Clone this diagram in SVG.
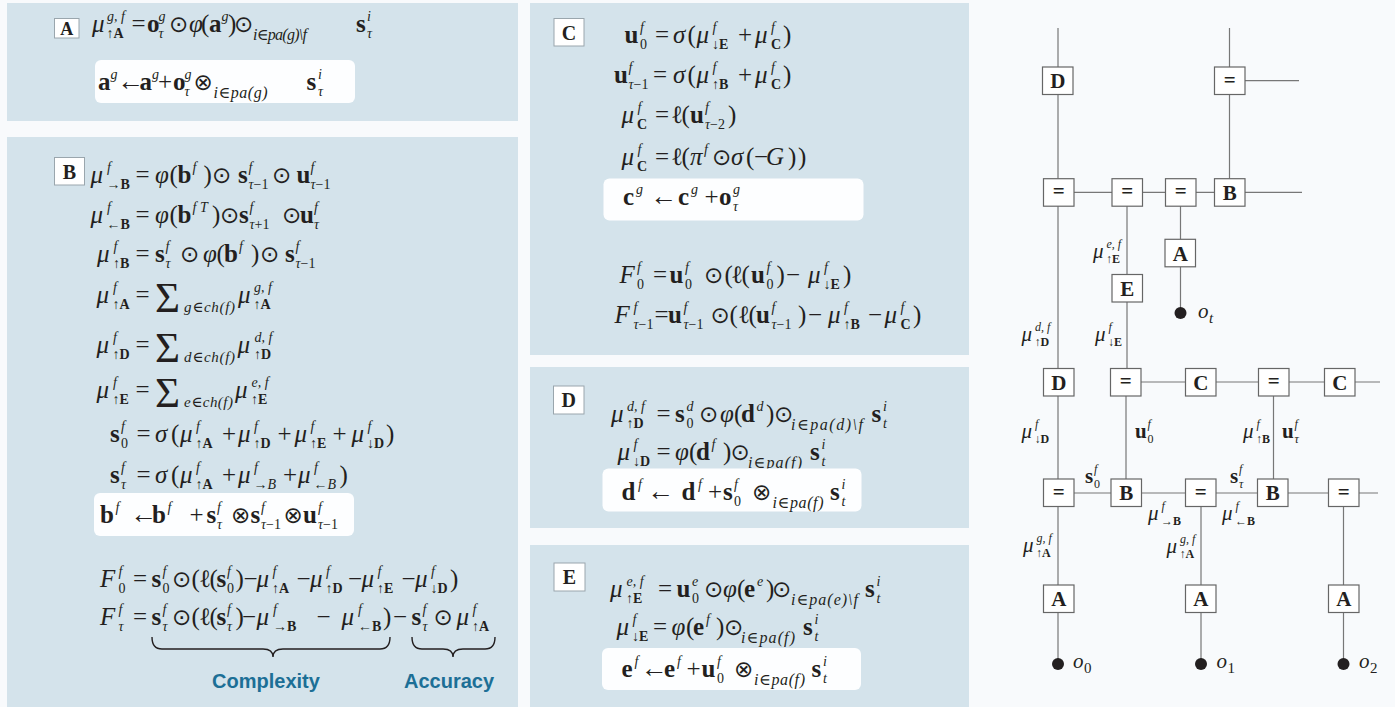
<svg xmlns="http://www.w3.org/2000/svg" width="1395" height="707" viewBox="0 0 1395 707">
<style>
.bg{fill:#f8fafc}
.panel{fill:#d4e3eb}
.wb{fill:#fdfeff}
.lbl{fill:#fff;stroke:#9aa6ad;stroke-width:1}
.lt{font-family:"Liberation Serif","DejaVu Serif",serif;font-weight:bold;font-size:20px;fill:#231f20;text-anchor:middle}
.eq{font-family:"Liberation Serif","DejaVu Serif",serif;font-size:25px;fill:#231f20}
.i{font-style:italic}
.b{font-weight:bold}
.n{font-style:normal}
.s{font-size:14px}
.o{font-family:"DejaVu Sans",sans-serif;font-size:23px;font-style:normal;font-weight:normal}
.ar{font-size:27px;font-style:normal}
.sum{font-size:43px;font-style:normal}
.osub{font-family:"Liberation Serif","DejaVu Serif",serif;font-size:16px;font-style:italic;fill:#231f20}
.cap{font-family:"Liberation Sans",Arial,sans-serif;font-weight:bold;font-size:20px;fill:#1c6f96;text-anchor:middle}
.brace{fill:none;stroke:#231f20;stroke-width:1.4}
.gl{font-family:"Liberation Serif","DejaVu Serif",serif;font-size:21px;fill:#231f20}
.gs{font-size:12px}
.box{fill:#fff;stroke:#666;stroke-width:1.2}
.nt{font-family:"Liberation Serif","DejaVu Serif",serif;font-weight:bold;font-size:21px;fill:#231f20;text-anchor:middle}
.ln{stroke:#777;stroke-width:1.2;fill:none}
.dot{fill:#231f20}
</style>
<rect class="bg" x="0" y="0" width="1395" height="707"/>

<!-- Panel A -->
<g id="panelA">
<rect class="panel" x="7" y="3" width="511" height="118"/>
<rect class="lbl" x="54.5" y="18.5" width="24.5" height="19.5"/>
<text class="lt" x="66.8" y="34.5" style="font-size:18px">A</text>
<rect class="wb" x="95" y="60" width="260" height="43" rx="6"/>
<text class="eq">
<tspan x="92" y="32" class="i">μ</tspan><tspan x="107" y="21" class="i s">g, f</tspan><tspan x="106.5" y="38" class="s">↑<tspan class="b">A</tspan></tspan>
<tspan x="131.5" y="32">=</tspan>
<tspan x="147" y="32" class="b">o</tspan><tspan x="158.5" y="21" class="i s">g</tspan><tspan x="158.5" y="38" class="i s">τ</tspan>
<tspan x="169" y="32" class="o">⊙</tspan>
<tspan x="189" y="32" class="i">φ</tspan><tspan x="201" y="32">(</tspan><tspan x="209" y="32" class="b">a</tspan><tspan x="221.5" y="21" class="i s">g</tspan><tspan x="228" y="32">)</tspan>
<tspan x="234" y="32" class="o">⊙</tspan>
<tspan x="356" y="32" class="b">s</tspan><tspan x="367" y="21" class="i s">i</tspan><tspan x="367" y="38" class="i s">τ</tspan>
</text>
<text class="osub" x="253" y="40" textLength="54" lengthAdjust="spacing">i<tspan class="n">∈</tspan>pa(g)\f</text>
<text class="eq">
<tspan x="98" y="90" class="b">a</tspan><tspan x="110.5" y="79" class="i s">g</tspan>
<tspan x="117" y="90" class="ar">←</tspan>
<tspan x="139.5" y="90" class="b">a</tspan><tspan x="152" y="79" class="i s">g</tspan>
<tspan x="158" y="90">+</tspan>
<tspan x="173" y="90" class="b">o</tspan><tspan x="184.5" y="79" class="i s">g</tspan><tspan x="184.5" y="96" class="i s">τ</tspan>
<tspan x="193.5" y="90" class="o">⊗</tspan>
<tspan x="306.5" y="90" class="b">s</tspan><tspan x="318" y="79" class="i s">i</tspan><tspan x="318" y="96" class="i s">τ</tspan>
</text>
<text class="osub" x="213.5" y="98" textLength="54" lengthAdjust="spacing">i<tspan class="n">∈</tspan>pa(g)</text>
</g>

<!-- Panel B -->
<g id="panelB">
<rect class="panel" x="7" y="137" width="511" height="570"/>
<rect class="lbl" x="54.5" y="157.5" width="30" height="27.5"/>
<text class="lt" x="69.5" y="178.5">B</text>
<text class="eq">
<tspan x="90.5" y="183" class="i">μ</tspan><tspan x="107" y="172" class="i s">f</tspan><tspan x="106.5" y="189" class="s">→<tspan class="b">B</tspan></tspan>
<tspan x="135.5" y="183">=</tspan>
<tspan x="155" y="183" class="i">φ</tspan><tspan x="169.5" y="183">(</tspan><tspan x="177.5" y="183" class="b">b</tspan><tspan x="192.5" y="172" class="i s">f</tspan><tspan x="203.5" y="183">)</tspan>
<tspan x="212" y="183" class="o">⊙</tspan>
<tspan x="238" y="183" class="b">s</tspan><tspan x="248.5" y="172" class="i s">f</tspan><tspan x="248.5" y="189" class="i s">τ<tspan class="n">−1</tspan></tspan>
<tspan x="272" y="183" class="o">⊙</tspan>
<tspan x="296.5" y="183" class="b">u</tspan><tspan x="310.5" y="172" class="i s">f</tspan><tspan x="310.5" y="189" class="i s">τ<tspan class="n">−1</tspan></tspan>
</text>
<text class="eq">
<tspan x="90.5" y="223" class="i">μ</tspan><tspan x="107" y="212" class="i s">f</tspan><tspan x="106.5" y="229" class="s">←<tspan class="b">B</tspan></tspan>
<tspan x="135.5" y="223">=</tspan>
<tspan x="155" y="223" class="i">φ</tspan><tspan x="169.5" y="223">(</tspan><tspan x="177.5" y="223" class="b">b</tspan><tspan x="192.5" y="212" class="i s">f T</tspan><tspan x="212" y="223">)</tspan>
<tspan x="220" y="223" class="o">⊙</tspan>
<tspan x="239" y="223" class="b">s</tspan><tspan x="249.5" y="212" class="i s">f</tspan><tspan x="249.5" y="229" class="i s">τ<tspan class="n">+1</tspan></tspan>
<tspan x="282" y="223" class="o">⊙</tspan>
<tspan x="300" y="223" class="b">u</tspan><tspan x="314" y="212" class="i s">f</tspan><tspan x="314" y="229" class="i s">τ</tspan>
</text>
<text class="eq">
<tspan x="97" y="262" class="i">μ</tspan><tspan x="113.5" y="251" class="i s">f</tspan><tspan x="113" y="268" class="s">↑<tspan class="b">B</tspan></tspan>
<tspan x="135.5" y="262">=</tspan>
<tspan x="155" y="262" class="b">s</tspan><tspan x="165.5" y="251" class="i s">f</tspan><tspan x="165.5" y="268" class="i s">τ</tspan>
<tspan x="180" y="262" class="o">⊙</tspan>
<tspan x="203" y="262" class="i">φ</tspan><tspan x="216.5" y="262">(</tspan><tspan x="224" y="262" class="b">b</tspan><tspan x="239" y="251" class="i s">f</tspan><tspan x="251" y="262">)</tspan>
<tspan x="260" y="262" class="o">⊙</tspan>
<tspan x="285" y="262" class="b">s</tspan><tspan x="295.5" y="251" class="i s">f</tspan><tspan x="295.5" y="268" class="i s">τ<tspan class="n">−1</tspan></tspan>
</text>
<text class="eq">
<tspan x="96.5" y="303" class="i">μ</tspan><tspan x="113" y="292" class="i s">f</tspan><tspan x="112.5" y="309" class="s">↑<tspan class="b">A</tspan></tspan>
<tspan x="135.5" y="303">=</tspan>
<tspan x="155" y="312" class="sum">Σ</tspan>
<tspan x="238" y="303" class="i">μ</tspan><tspan x="254" y="292" class="i s">g, f</tspan><tspan x="253.5" y="309" class="s">↑<tspan class="b">A</tspan></tspan>
</text>
<text class="osub" x="184" y="312" textLength="51" lengthAdjust="spacing" style="font-size:15px">g<tspan class="n">∈</tspan>ch(f)</text>
<text class="eq">
<tspan x="96.5" y="353" class="i">μ</tspan><tspan x="113" y="342" class="i s">f</tspan><tspan x="112.5" y="359" class="s">↑<tspan class="b">D</tspan></tspan>
<tspan x="135.5" y="353">=</tspan>
<tspan x="155" y="362" class="sum">Σ</tspan>
<tspan x="237.5" y="353" class="i">μ</tspan><tspan x="254.5" y="342" class="i s">d, f</tspan><tspan x="254" y="359" class="s">↑<tspan class="b">D</tspan></tspan>
</text>
<text class="osub" x="184" y="362" textLength="51" lengthAdjust="spacing" style="font-size:15px">d<tspan class="n">∈</tspan>ch(f)</text>
<text class="eq">
<tspan x="96.5" y="398" class="i">μ</tspan><tspan x="113" y="387" class="i s">f</tspan><tspan x="112.5" y="404" class="s">↑<tspan class="b">E</tspan></tspan>
<tspan x="135.5" y="398">=</tspan>
<tspan x="155" y="407" class="sum">Σ</tspan>
<tspan x="235" y="398" class="i">μ</tspan><tspan x="251.5" y="387" class="i s">e, f</tspan><tspan x="251" y="404" class="s">↑<tspan class="b">E</tspan></tspan>
</text>
<text class="osub" x="184" y="407" textLength="49" lengthAdjust="spacing" style="font-size:15px">e<tspan class="n">∈</tspan>ch(f)</text>
<text class="eq">
<tspan x="110" y="442" class="b">s</tspan><tspan x="121" y="431" class="i s">f</tspan><tspan x="121" y="448" class="s">0</tspan>
<tspan x="136.5" y="442">=</tspan>
<tspan x="155" y="442" class="i">σ</tspan><tspan x="171" y="442">(</tspan>
<tspan x="180" y="442" class="i">μ</tspan><tspan x="196" y="431" class="i s">f</tspan><tspan x="195.5" y="448" class="s">↑<tspan class="b">A</tspan></tspan>
<tspan x="222" y="442">+</tspan>
<tspan x="238" y="442" class="i">μ</tspan><tspan x="254" y="431" class="i s">f</tspan><tspan x="253.5" y="448" class="s">↑<tspan class="b">D</tspan></tspan>
<tspan x="277.5" y="442">+</tspan>
<tspan x="294.5" y="442" class="i">μ</tspan><tspan x="310.5" y="431" class="i s">f</tspan><tspan x="310" y="448" class="s">↑<tspan class="b">E</tspan></tspan>
<tspan x="332.5" y="442">+</tspan>
<tspan x="351.5" y="442" class="i">μ</tspan><tspan x="367.5" y="431" class="i s">f</tspan><tspan x="367" y="448" class="s">↓<tspan class="b">D</tspan></tspan>
<tspan x="386" y="442">)</tspan>
</text>
<text class="eq">
<tspan x="110" y="483" class="b">s</tspan><tspan x="121" y="472" class="i s">f</tspan><tspan x="121" y="489" class="i s">τ</tspan>
<tspan x="136.5" y="483">=</tspan>
<tspan x="155" y="483" class="i">σ</tspan><tspan x="171" y="483">(</tspan>
<tspan x="180" y="483" class="i">μ</tspan><tspan x="196" y="472" class="i s">f</tspan><tspan x="195.5" y="489" class="s">↑<tspan class="b">A</tspan></tspan>
<tspan x="222" y="483">+</tspan>
<tspan x="238" y="483" class="i">μ</tspan><tspan x="254" y="472" class="i s">f</tspan><tspan x="253.5" y="489" class="s">→<tspan class="i">B</tspan></tspan>
<tspan x="283" y="483">+</tspan>
<tspan x="298" y="483" class="i">μ</tspan><tspan x="314" y="472" class="i s">f</tspan><tspan x="313.5" y="489" class="s">←<tspan class="i">B</tspan></tspan>
<tspan x="339.5" y="483">)</tspan>
</text>
<rect class="wb" x="94" y="493" width="260" height="43" rx="6"/>
<text class="eq">
<tspan x="100" y="523" class="b">b</tspan><tspan x="115.5" y="512" class="i s">f</tspan>
<tspan x="130" y="523" class="ar">←</tspan>
<tspan x="152" y="523" class="b">b</tspan><tspan x="167.5" y="512" class="i s">f</tspan>
<tspan x="189.5" y="523">+</tspan>
<tspan x="206.5" y="523" class="b">s</tspan><tspan x="217" y="512" class="i s">f</tspan><tspan x="217" y="529" class="i s">τ</tspan>
<tspan x="231" y="523" class="o">⊗</tspan>
<tspan x="250.5" y="523" class="b">s</tspan><tspan x="261" y="512" class="i s">f</tspan><tspan x="261" y="529" class="i s">τ<tspan class="n">−1</tspan></tspan>
<tspan x="283.5" y="523" class="o">⊗</tspan>
<tspan x="303" y="523" class="b">u</tspan><tspan x="318" y="512" class="i s">f</tspan><tspan x="318" y="529" class="i s">τ<tspan class="n">−1</tspan></tspan>
</text>
<text class="eq">
<tspan x="100" y="587" class="i">F</tspan><tspan x="118.5" y="576" class="i s">f</tspan><tspan x="118.5" y="593" class="s">0</tspan>
<tspan x="133" y="587">=</tspan>
<tspan x="151.5" y="587" class="b">s</tspan><tspan x="162.5" y="576" class="i s">f</tspan><tspan x="162.5" y="593" class="s">0</tspan>
<tspan x="172" y="587" class="o">⊙</tspan>
<tspan x="191.5" y="587">(</tspan><tspan x="199" y="587">ℓ</tspan><tspan x="209.5" y="587">(</tspan>
<tspan x="216.5" y="587" class="b">s</tspan><tspan x="227" y="576" class="i s">f</tspan><tspan x="227" y="593" class="s">0</tspan><tspan x="235.5" y="587">)</tspan>
<tspan x="243.5" y="587">−</tspan>
<tspan x="256.5" y="587" class="i">μ</tspan><tspan x="272.5" y="576" class="i s">f</tspan><tspan x="272" y="593" class="s">↑<tspan class="b">A</tspan></tspan>
<tspan x="296.5" y="587">−</tspan>
<tspan x="310" y="587" class="i">μ</tspan><tspan x="326" y="576" class="i s">f</tspan><tspan x="325.5" y="593" class="s">↑<tspan class="b">D</tspan></tspan>
<tspan x="348" y="587">−</tspan>
<tspan x="361.5" y="587" class="i">μ</tspan><tspan x="377.5" y="576" class="i s">f</tspan><tspan x="377" y="593" class="s">↑<tspan class="b">E</tspan></tspan>
<tspan x="401.5" y="587">−</tspan>
<tspan x="415" y="587" class="i">μ</tspan><tspan x="431" y="576" class="i s">f</tspan><tspan x="430.5" y="593" class="s">↓<tspan class="b">D</tspan></tspan>
<tspan x="450" y="587">)</tspan>
</text>
<text class="eq">
<tspan x="100" y="625" class="i">F</tspan><tspan x="118.5" y="614" class="i s">f</tspan><tspan x="118.5" y="631" class="i s">τ</tspan>
<tspan x="133" y="625">=</tspan>
<tspan x="151.5" y="625" class="b">s</tspan><tspan x="162.5" y="614" class="i s">f</tspan><tspan x="162.5" y="631" class="i s">τ</tspan>
<tspan x="172" y="625" class="o">⊙</tspan>
<tspan x="191.5" y="625">(</tspan><tspan x="199" y="625">ℓ</tspan><tspan x="209.5" y="625">(</tspan>
<tspan x="216.5" y="625" class="b">s</tspan><tspan x="227" y="614" class="i s">f</tspan><tspan x="227" y="631" class="i s">τ</tspan><tspan x="235.5" y="625">)</tspan>
<tspan x="242" y="625">−</tspan>
<tspan x="256.5" y="625" class="i">μ</tspan><tspan x="273" y="614" class="i s">f</tspan><tspan x="273" y="631" class="s">→<tspan class="b">B</tspan></tspan>
<tspan x="316.5" y="625">−</tspan>
<tspan x="341.5" y="625" class="i">μ</tspan><tspan x="358" y="614" class="i s">f</tspan><tspan x="358" y="631" class="s">←<tspan class="b">B</tspan></tspan>
<tspan x="383" y="625">)</tspan>
<tspan x="393" y="625">−</tspan>
<tspan x="411.5" y="625" class="b">s</tspan><tspan x="422.5" y="614" class="i s">f</tspan><tspan x="422.5" y="631" class="i s">τ</tspan>
<tspan x="433.5" y="625" class="o">⊙</tspan>
<tspan x="456.5" y="625" class="i">μ</tspan><tspan x="472.5" y="614" class="i s">f</tspan><tspan x="472" y="631" class="s">↑<tspan class="b">A</tspan></tspan>
</text>
<path class="brace" d="M152,637 Q152,649 162,649 L263,649 Q273,649 273,657 Q273,649 283,649 L380,649 Q390,649 390,637"/>
<path class="brace" d="M412,637 Q412,649 422,649 L443,649 Q453,649 453,657 Q453,649 463,649 L485,649 Q495,649 495,637"/>
<text class="cap" x="266" y="688">Complexity</text>
<text class="cap" x="449" y="688">Accuracy</text>
</g>

<!-- Panel C -->
<g id="panelC">
<rect class="panel" x="530" y="3" width="439" height="352"/>
<rect class="lbl" x="554" y="18.5" width="30" height="27.5"/>
<text class="lt" x="569" y="39.5">C</text>
<text class="eq">
<tspan x="624.5" y="43" class="b">u</tspan><tspan x="640" y="32" class="i s">f</tspan><tspan x="640" y="49" class="s">0</tspan>
<tspan x="655" y="43">=</tspan>
<tspan x="673" y="43" class="i">σ</tspan><tspan x="687.5" y="43">(</tspan>
<tspan x="696.5" y="43" class="i">μ</tspan><tspan x="712.5" y="32" class="i s">f</tspan><tspan x="712" y="49" class="s">↓<tspan class="b">E</tspan></tspan>
<tspan x="738" y="43">+</tspan>
<tspan x="755" y="43" class="i">μ</tspan><tspan x="771" y="32" class="i s">f</tspan><tspan x="771" y="49" class="b s">C</tspan>
<tspan x="783" y="43">)</tspan>
</text>
<text class="eq">
<tspan x="614" y="83" class="b">u</tspan><tspan x="628.5" y="72" class="i s">f</tspan><tspan x="628.5" y="89" class="i s">τ<tspan class="n">−1</tspan></tspan>
<tspan x="653" y="83">=</tspan>
<tspan x="673" y="83" class="i">σ</tspan><tspan x="687.5" y="83">(</tspan>
<tspan x="696.5" y="83" class="i">μ</tspan><tspan x="712.5" y="72" class="i s">f</tspan><tspan x="712" y="89" class="s">↑<tspan class="b">B</tspan></tspan>
<tspan x="738" y="83">+</tspan>
<tspan x="755" y="83" class="i">μ</tspan><tspan x="771" y="72" class="i s">f</tspan><tspan x="771" y="89" class="b s">C</tspan>
<tspan x="783" y="83">)</tspan>
</text>
<text class="eq">
<tspan x="621.5" y="123" class="i">μ</tspan><tspan x="637.5" y="112" class="i s">f</tspan><tspan x="637" y="129" class="b s">C</tspan>
<tspan x="655" y="123">=</tspan>
<tspan x="671" y="123">ℓ</tspan><tspan x="681.5" y="123">(</tspan>
<tspan x="690" y="123" class="b">u</tspan><tspan x="705" y="112" class="i s">f</tspan><tspan x="705" y="129" class="i s">τ<tspan class="n">−2</tspan></tspan>
<tspan x="728" y="123">)</tspan>
</text>
<text class="eq">
<tspan x="621.5" y="165" class="i">μ</tspan><tspan x="637.5" y="154" class="i s">f</tspan><tspan x="637" y="171" class="b s">C</tspan>
<tspan x="655" y="165">=</tspan>
<tspan x="671" y="165">ℓ</tspan><tspan x="681.5" y="165">(</tspan>
<tspan x="690" y="165" class="i">π</tspan><tspan x="704" y="154" class="i s">f</tspan>
<tspan x="712" y="165" class="o">⊙</tspan>
<tspan x="731" y="165" class="i">σ</tspan><tspan x="746" y="165">(</tspan><tspan x="754" y="165">−</tspan><tspan x="766" y="165" class="i">G</tspan><tspan x="788" y="165">)</tspan><tspan x="798" y="165">)</tspan>
</text>
<rect class="wb" x="603.5" y="178.5" width="260" height="42" rx="6"/>
<text class="eq">
<tspan x="623" y="205" class="b">c</tspan><tspan x="636" y="194" class="i s">g</tspan>
<tspan x="650" y="205" class="ar">←</tspan>
<tspan x="678" y="205" class="b">c</tspan><tspan x="691" y="194" class="i s">g</tspan>
<tspan x="704.5" y="205">+</tspan>
<tspan x="719" y="205" class="b">o</tspan><tspan x="733" y="194" class="i s">g</tspan><tspan x="733" y="211" class="i s">τ</tspan>
</text>
<text class="eq">
<tspan x="619.5" y="283" class="i">F</tspan><tspan x="637" y="272" class="i s">f</tspan><tspan x="637" y="289" class="s">0</tspan>
<tspan x="653" y="283">=</tspan>
<tspan x="669.5" y="283" class="b">u</tspan><tspan x="685" y="272" class="i s">f</tspan><tspan x="685" y="289" class="s">0</tspan>
<tspan x="704" y="283" class="o">⊙</tspan>
<tspan x="724.5" y="283">(</tspan><tspan x="731" y="283">ℓ</tspan><tspan x="741.5" y="283">(</tspan>
<tspan x="751" y="283" class="b">u</tspan><tspan x="766.5" y="272" class="i s">f</tspan><tspan x="766.5" y="289" class="s">0</tspan><tspan x="776.5" y="283">)</tspan>
<tspan x="786" y="283">−</tspan>
<tspan x="808" y="283" class="i">μ</tspan><tspan x="824" y="272" class="i s">f</tspan><tspan x="823.5" y="289" class="s">↓<tspan class="b">E</tspan></tspan>
<tspan x="843" y="283">)</tspan>
</text>
<text class="eq">
<tspan x="614.5" y="323" class="i">F</tspan><tspan x="633.5" y="312" class="i s">f</tspan><tspan x="633.5" y="329" class="i s">τ<tspan class="n">−1</tspan></tspan>
<tspan x="654.5" y="323">=</tspan>
<tspan x="668" y="323" class="b">u</tspan><tspan x="683.5" y="312" class="i s">f</tspan><tspan x="683.5" y="329" class="i s">τ<tspan class="n">−1</tspan></tspan>
<tspan x="710.5" y="323" class="o">⊙</tspan>
<tspan x="729.5" y="323">(</tspan><tspan x="738" y="323">ℓ</tspan><tspan x="748.5" y="323">(</tspan>
<tspan x="756" y="323" class="b">u</tspan><tspan x="771.5" y="312" class="i s">f</tspan><tspan x="771.5" y="329" class="i s">τ<tspan class="n">−1</tspan></tspan><tspan x="798" y="323">)</tspan>
<tspan x="808" y="323">−</tspan>
<tspan x="828" y="323" class="i">μ</tspan><tspan x="844" y="312" class="i s">f</tspan><tspan x="843.5" y="329" class="s">↑<tspan class="b">B</tspan></tspan>
<tspan x="868" y="323">−</tspan>
<tspan x="884.5" y="323" class="i">μ</tspan><tspan x="900.5" y="312" class="i s">f</tspan><tspan x="900.5" y="329" class="b s">C</tspan>
<tspan x="913" y="323">)</tspan>
</text>
</g>

<!-- Panel D -->
<g id="panelD">
<rect class="panel" x="530" y="367" width="439" height="161"/>
<rect class="lbl" x="553.5" y="386" width="30.5" height="28"/>
<text class="lt" x="568.8" y="407">D</text>
<text class="eq">
<tspan x="611" y="422" class="i">μ</tspan><tspan x="627" y="411" class="i s">d, f</tspan><tspan x="626.5" y="428" class="s">↑<tspan class="b">D</tspan></tspan>
<tspan x="656.5" y="422">=</tspan>
<tspan x="675" y="422" class="b">s</tspan><tspan x="686.5" y="411" class="i s">d</tspan><tspan x="686.5" y="428" class="s">0</tspan>
<tspan x="699" y="422" class="o">⊙</tspan>
<tspan x="720" y="422" class="i">φ</tspan><tspan x="734" y="422">(</tspan><tspan x="741" y="422" class="b">d</tspan><tspan x="756.5" y="411" class="i s">d</tspan><tspan x="766" y="422">)</tspan>
<tspan x="774" y="422" class="o">⊙</tspan>
<tspan x="871.5" y="422" class="b">s</tspan><tspan x="883" y="411" class="i s">i</tspan><tspan x="883" y="428" class="i s">t</tspan>
</text>
<text class="osub" x="791" y="430" textLength="72" lengthAdjust="spacing">i<tspan class="n">∈</tspan>pa(d)\f</text>
<text class="eq">
<tspan x="617.5" y="460" class="i">μ</tspan><tspan x="633.5" y="449" class="i s">f</tspan><tspan x="633" y="466" class="s">↓<tspan class="b">D</tspan></tspan>
<tspan x="656.5" y="460">=</tspan>
<tspan x="675" y="460" class="i">φ</tspan><tspan x="689" y="460">(</tspan><tspan x="696" y="460" class="b">d</tspan><tspan x="711.5" y="449" class="i s">f</tspan><tspan x="723" y="460">)</tspan>
<tspan x="730.5" y="460" class="o">⊙</tspan>
<tspan x="810" y="460" class="b">s</tspan><tspan x="821.5" y="449" class="i s">i</tspan><tspan x="821.5" y="466" class="i s">t</tspan>
</text>
<text class="osub" x="748" y="468" textLength="54" lengthAdjust="spacing">i<tspan class="n">∈</tspan>pa(f)</text>
<rect class="wb" x="602.5" y="468.5" width="259" height="43" rx="6"/>
<text class="eq">
<tspan x="621.5" y="500" class="b">d</tspan><tspan x="638" y="489" class="i s">f</tspan>
<tspan x="647" y="500" class="ar">←</tspan>
<tspan x="681.5" y="500" class="b">d</tspan><tspan x="698" y="489" class="i s">f</tspan>
<tspan x="708" y="500">+</tspan>
<tspan x="723" y="500" class="b">s</tspan><tspan x="734" y="489" class="i s">f</tspan><tspan x="734" y="506" class="s">0</tspan>
<tspan x="752" y="500" class="o">⊗</tspan>
<tspan x="830" y="500" class="b">s</tspan><tspan x="841.5" y="489" class="i s">i</tspan><tspan x="841.5" y="506" class="i s">t</tspan>
</text>
<text class="osub" x="772.5" y="508" textLength="51" lengthAdjust="spacing">i<tspan class="n">∈</tspan>pa(f)</text>
</g>

<!-- Panel E -->
<g id="panelE">
<rect class="panel" x="530" y="545" width="439" height="162"/>
<rect class="lbl" x="554" y="563" width="31" height="28"/>
<text class="lt" x="569.5" y="584">E</text>
<text class="eq">
<tspan x="610" y="597" class="i">μ</tspan><tspan x="626.5" y="586" class="i s">e, f</tspan><tspan x="626" y="603" class="s">↑<tspan class="b">E</tspan></tspan>
<tspan x="658" y="597">=</tspan>
<tspan x="676.5" y="597" class="b">u</tspan><tspan x="692" y="586" class="i s">e</tspan><tspan x="692" y="603" class="s">0</tspan>
<tspan x="704" y="597" class="o">⊙</tspan>
<tspan x="723" y="597" class="i">φ</tspan><tspan x="737" y="597">(</tspan><tspan x="744" y="597" class="b">e</tspan><tspan x="757" y="586" class="i s">e</tspan><tspan x="766" y="597">)</tspan>
<tspan x="772" y="597" class="o">⊙</tspan>
<tspan x="865" y="597" class="b">s</tspan><tspan x="876.5" y="586" class="i s">i</tspan><tspan x="876.5" y="603" class="i s">t</tspan>
</text>
<text class="osub" x="791" y="605" textLength="67" lengthAdjust="spacing">i<tspan class="n">∈</tspan>pa(e)\f</text>
<text class="eq">
<tspan x="616.5" y="635" class="i">μ</tspan><tspan x="632.5" y="624" class="i s">f</tspan><tspan x="632" y="641" class="s">↓<tspan class="b">E</tspan></tspan>
<tspan x="653" y="635">=</tspan>
<tspan x="671.5" y="635" class="i">φ</tspan><tspan x="686" y="635">(</tspan><tspan x="693" y="635" class="b">e</tspan><tspan x="706" y="624" class="i s">f</tspan><tspan x="716" y="635">)</tspan>
<tspan x="724" y="635" class="o">⊙</tspan>
<tspan x="803" y="635" class="b">s</tspan><tspan x="814.5" y="624" class="i s">i</tspan><tspan x="814.5" y="641" class="i s">t</tspan>
</text>
<text class="osub" x="741" y="643" textLength="54" lengthAdjust="spacing">i<tspan class="n">∈</tspan>pa(f)</text>
<rect class="wb" x="602" y="648" width="259" height="42" rx="6"/>
<text class="eq">
<tspan x="621.5" y="677" class="b">e</tspan><tspan x="634.5" y="666" class="i s">f</tspan>
<tspan x="640.5" y="677" class="ar">←</tspan>
<tspan x="664" y="677" class="b">e</tspan><tspan x="677" y="666" class="i s">f</tspan>
<tspan x="686.5" y="677">+</tspan>
<tspan x="701.5" y="677" class="b">u</tspan><tspan x="717" y="666" class="i s">f</tspan><tspan x="717" y="683" class="s">0</tspan>
<tspan x="734" y="677" class="o">⊗</tspan>
<tspan x="811.5" y="677" class="b">s</tspan><tspan x="823" y="666" class="i s">i</tspan><tspan x="823" y="683" class="i s">t</tspan>
</text>
<text class="osub" x="754" y="685" textLength="51" lengthAdjust="spacing">i<tspan class="n">∈</tspan>pa(f)</text>
</g>

<!-- Graph connectors -->
<g id="connectors">
<path class="ln" d="M1058,28V67 M1058,94.5V178.7 M1058,206V368.5 M1058,396V479 M1058,506.5V585 M1058,612.5V664"/>
<path class="ln" d="M1229.5,28V67 M1229.5,94.5V178.7"/>
<path class="ln" d="M1127,206V274.5 M1127,302V368.5"/>
<path class="ln" d="M1180.5,206V239.3 M1180.5,266.8V313"/>
<path class="ln" d="M1126,396V479 M1273.5,396V479"/>
<path class="ln" d="M1201,506.5V585 M1201,612.5V664 M1343.5,506.5V585 M1343.5,612.5V664"/>
<path class="ln" d="M1245,80.7H1299"/>
<path class="ln" d="M1074,192.3H1112 M1142.5,192.3H1165.5 M1196,192.3H1214.5 M1245,192.3H1302"/>
<path class="ln" d="M1141,382H1185.5 M1216,382H1258.5 M1289,382H1324.5 M1355,382H1380"/>
<path class="ln" d="M1074,493H1111 M1141.5,493H1185.5 M1216,493H1257.5 M1288,493H1328.5 M1359,493H1378"/>
</g>

<!-- Graph nodes -->
<g id="nD1"><rect class="box" x="1042.5" y="67" width="30.5" height="27.5"/><text class="nt" x="1057.8" y="88.2">D</text></g>
<g id="nEq1"><rect class="box" x="1214.5" y="67" width="30.5" height="27.5"/><text class="nt" x="1229.8" y="86.5">=</text></g>
<g id="nEq2"><rect class="box" x="1043.5" y="178.7" width="30.5" height="27.5"/><text class="nt" x="1058.8" y="198.2">=</text></g>
<g id="nEq3"><rect class="box" x="1112" y="178.7" width="30.5" height="27.5"/><text class="nt" x="1127.3" y="198.2">=</text></g>
<g id="nEq4"><rect class="box" x="1165.5" y="178.7" width="30.5" height="27.5"/><text class="nt" x="1180.8" y="198.2">=</text></g>
<g id="nB1"><rect class="box" x="1214.5" y="178.7" width="30.5" height="27.5"/><text class="nt" x="1229.8" y="199.9">B</text></g>
<g id="nA1"><rect class="box" x="1165" y="239.3" width="30.5" height="27.5"/><text class="nt" x="1180.3" y="260.5">A</text></g>
<g id="nE1"><rect class="box" x="1112" y="274.5" width="30.5" height="27.5"/><text class="nt" x="1127.3" y="295.7">E</text></g>
<g id="nD2"><rect class="box" x="1043.5" y="368.5" width="30.5" height="27.5"/><text class="nt" x="1058.8" y="389.7">D</text></g>
<g id="nEq5"><rect class="box" x="1110.5" y="368.5" width="30.5" height="27.5"/><text class="nt" x="1125.8" y="388">=</text></g>
<g id="nC1"><rect class="box" x="1185.5" y="368.5" width="30.5" height="27.5"/><text class="nt" x="1200.8" y="389.7">C</text></g>
<g id="nEq6"><rect class="box" x="1258.5" y="368.5" width="30.5" height="27.5"/><text class="nt" x="1273.8" y="388">=</text></g>
<g id="nC2"><rect class="box" x="1324.5" y="368.5" width="30.5" height="27.5"/><text class="nt" x="1339.8" y="389.7">C</text></g>
<g id="nEq7"><rect class="box" x="1043.5" y="479" width="30.5" height="27.5"/><text class="nt" x="1058.8" y="498.5">=</text></g>
<g id="nB2"><rect class="box" x="1111" y="479" width="30.5" height="27.5"/><text class="nt" x="1126.3" y="500.2">B</text></g>
<g id="nEq8"><rect class="box" x="1185.5" y="479" width="30.5" height="27.5"/><text class="nt" x="1200.8" y="498.5">=</text></g>
<g id="nB3"><rect class="box" x="1257.5" y="479" width="30.5" height="27.5"/><text class="nt" x="1272.8" y="500.2">B</text></g>
<g id="nEq9"><rect class="box" x="1328.5" y="479" width="30.5" height="27.5"/><text class="nt" x="1343.8" y="498.5">=</text></g>
<g id="nA2"><rect class="box" x="1043.5" y="585" width="30.5" height="27.5"/><text class="nt" x="1058.8" y="606.2">A</text></g>
<g id="nA3"><rect class="box" x="1185.5" y="585" width="30.5" height="27.5"/><text class="nt" x="1200.8" y="606.2">A</text></g>
<g id="nA4"><rect class="box" x="1328.5" y="585" width="30.5" height="27.5"/><text class="nt" x="1343.8" y="606.2">A</text></g>
<g id="obs_t"><circle class="dot" cx="1180.5" cy="313" r="6"/><text class="gl"><tspan x="1198" y="318" class="i">o</tspan><tspan x="1209" y="323" class="i" style="font-size:15px">t</tspan></text></g>
<g id="obs_0"><circle class="dot" cx="1058" cy="664" r="6"/><text class="gl"><tspan x="1073" y="668" class="i">o</tspan><tspan x="1084" y="673" style="font-size:15px">0</tspan></text></g>
<g id="obs_1"><circle class="dot" cx="1201" cy="664" r="6"/><text class="gl"><tspan x="1216.5" y="668" class="i">o</tspan><tspan x="1227.5" y="673" style="font-size:15px">1</tspan></text></g>
<g id="obs_2"><circle class="dot" cx="1343.5" cy="664" r="6"/><text class="gl"><tspan x="1359" y="668" class="i">o</tspan><tspan x="1370" y="673" style="font-size:15px">2</tspan></text></g>

<!-- Graph message labels -->
<g id="graphLabels">
<text class="gl"><tspan x="1093" y="258" class="i">μ</tspan><tspan x="1106.5" y="248" class="i gs">e, f</tspan><tspan x="1106" y="263" class="gs">↑<tspan class="b">E</tspan></tspan></text>
<text class="gl"><tspan x="1021.5" y="341" class="i">μ</tspan><tspan x="1035" y="331" class="i gs">d, f</tspan><tspan x="1034.5" y="346" class="gs">↑<tspan class="b">D</tspan></tspan></text>
<text class="gl"><tspan x="1095" y="341" class="i">μ</tspan><tspan x="1108.5" y="331" class="i gs">f</tspan><tspan x="1108" y="346" class="gs">↓<tspan class="b">E</tspan></tspan></text>
<text class="gl"><tspan x="1021.5" y="438" class="i">μ</tspan><tspan x="1035" y="428" class="i gs">f</tspan><tspan x="1034.5" y="443" class="gs">↓<tspan class="b">D</tspan></tspan></text>
<text class="gl"><tspan x="1135" y="438" class="b">u</tspan><tspan x="1147.5" y="428" class="i gs">f</tspan><tspan x="1147.5" y="443" class="gs">0</tspan></text>
<text class="gl"><tspan x="1243" y="438" class="i">μ</tspan><tspan x="1256.5" y="428" class="i gs">f</tspan><tspan x="1256" y="443" class="gs">↑<tspan class="b">B</tspan></tspan></text>
<text class="gl"><tspan x="1282" y="438" class="b">u</tspan><tspan x="1294.5" y="428" class="i gs">f</tspan><tspan x="1294.5" y="443" class="i gs">τ</tspan></text>
<text class="gl"><tspan x="1085" y="483" class="b">s</tspan><tspan x="1094" y="473" class="i gs">f</tspan><tspan x="1094" y="488" class="gs">0</tspan></text>
<text class="gl"><tspan x="1230" y="483" class="b">s</tspan><tspan x="1239" y="473" class="i gs">f</tspan><tspan x="1239" y="488" class="i gs">τ</tspan></text>
<text class="gl"><tspan x="1148" y="520" class="i">μ</tspan><tspan x="1161.5" y="510" class="i gs">f</tspan><tspan x="1161" y="525" class="gs">→<tspan class="b">B</tspan></tspan></text>
<text class="gl"><tspan x="1222" y="520" class="i">μ</tspan><tspan x="1235.5" y="510" class="i gs">f</tspan><tspan x="1235" y="525" class="gs">←<tspan class="b">B</tspan></tspan></text>
<text class="gl"><tspan x="1023" y="552" class="i">μ</tspan><tspan x="1036.5" y="542" class="i gs">g, f</tspan><tspan x="1036" y="557" class="gs">↑<tspan class="b">A</tspan></tspan></text>
<text class="gl"><tspan x="1166.5" y="553" class="i">μ</tspan><tspan x="1180" y="543" class="i gs">g, f</tspan><tspan x="1179.5" y="558" class="gs">↑<tspan class="b">A</tspan></tspan></text>
</g>
</svg>
